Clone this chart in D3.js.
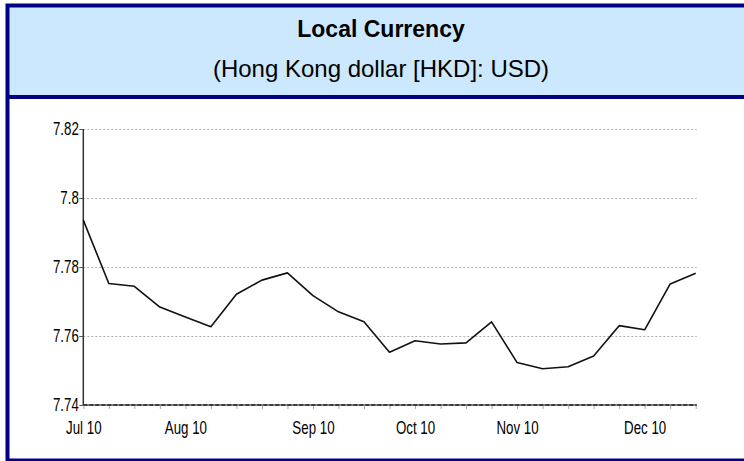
<!DOCTYPE html>
<html><head><meta charset="utf-8">
<script src="https://cdn.jsdelivr.net/npm/d3@7"></script>
<style>
html,body{margin:0;padding:0;background:#fff;overflow:hidden}
svg{display:block}
</style></head>
<body>
<svg id="c" width="744" height="461"></svg>
<script>
const title = "Local Currency";
const subtitle = "(Hong Kong dollar [HKD]: USD)";
// weekly observations, Jul 2010 – Dec 2010
const weeks = ["w01","w02","w03","w04","w05","w06","w07","w08","w09","w10","w11","w12","w13",
               "w14","w15","w16","w17","w18","w19","w20","w21","w22","w23","w24","w25"];
const weekLabels = ["Jul 10","","","","Aug 10","","","","","Sep 10","","","",
                    "Oct 10","","","","Nov 10","","","","","Dec 10","",""];
const rates = [7.7936,7.7752,7.7744,7.7684,7.7655,7.7627,7.7721,7.7762,7.7783,7.7717,7.7670,7.7641,7.7553,
               7.7586,7.7577,7.7580,7.7641,7.7523,7.7505,7.7511,7.7542,7.7630,7.7618,7.7751,7.7782];
const yTicks = [7.74,7.76,7.78,7.8,7.82];
const yTickLabels = ["7.74","7.76","7.78","7.8","7.82"];

const svg = d3.select("#c");
const navy = "#000080";

// header
svg.append("rect").attr("x",7).attr("y",5).attr("width",760).attr("height",92).attr("fill","#cce8ff");
svg.append("line").attr("x1",6).attr("x2",760).attr("y1",97).attr("y2",97).attr("stroke",navy).attr("stroke-width",4);
svg.append("rect").attr("x",7.5).attr("y",5.5).attr("width",760).attr("height",455)
   .attr("fill","none").attr("stroke",navy).attr("stroke-width",4);

svg.append("text").attr("x",381).attr("y",37).attr("text-anchor","middle")
   .attr("font-family","Liberation Sans, Arial, sans-serif").attr("font-size",23).attr("font-weight","bold")
   .attr("fill","#000").text(title);
svg.append("text").attr("x",381).attr("y",77).attr("text-anchor","middle")
   .attr("font-family","Liberation Sans, Arial, sans-serif").attr("font-size",24)
   .attr("fill","#000").text(subtitle);

const x = d3.scalePoint().domain(weeks).range([83.3,695.7]);
const y = d3.scaleLinear().domain([7.74,7.82]).range([405,129]);

const tickFont = "Liberation Sans, Arial, sans-serif";
const sx = 0.74;

// gridlines
svg.append("g").selectAll("line").data(yTicks.slice(1)).join("line")
   .attr("x1",x.range()[0]).attr("x2",x.range()[1]+1)
   .attr("y1",d=>Math.round(y(d))+0.5).attr("y2",d=>Math.round(y(d))+0.5)
   .attr("stroke","#b0b0b0").attr("stroke-width",1).attr("stroke-dasharray","2,2");

// x axis
const xAxis = d3.axisBottom(x).tickSize(4).tickFormat((d,i)=>weekLabels[i]);
const gx = svg.append("g").attr("transform",`translate(0,${y(7.74)})`).call(xAxis);
gx.select(".domain").remove();
gx.selectAll(".tick line").attr("stroke","#aaa").attr("stroke-width",1);
gx.selectAll(".tick text").attr("font-family",tickFont).attr("font-size",18).attr("fill","#000")
  .attr("y",29).attr("dy",0).attr("transform",`scale(${sx},1)`);
svg.append("line").attr("x1",x.range()[0]).attr("x2",x.range()[1]+1)
   .attr("y1",y(7.74)).attr("y2",y(7.74)).attr("stroke","#888").attr("stroke-width",2);
svg.append("line").attr("x1",x.range()[0]).attr("x2",x.range()[1]+1)
   .attr("y1",y(7.74)).attr("y2",y(7.74)).attr("stroke","#222").attr("stroke-width",1.5).attr("stroke-dasharray","4,2");

// y axis
const yAxis = d3.axisLeft(y).tickValues(yTicks).tickSize(4).tickFormat((d,i)=>yTickLabels[i]);
const gy = svg.append("g").attr("transform",`translate(${x.range()[0]},0)`).call(yAxis);
gy.select(".domain").attr("stroke","#333").attr("stroke-width",1.5).attr("d",`M0,${y(7.82)}V${y(7.74)}`);
gy.selectAll(".tick line").attr("stroke","#555");
gy.selectAll(".tick text").attr("font-family",tickFont).attr("font-size",18).attr("fill","#000")
  .attr("x",-4.5/sx).attr("transform",`scale(${sx},1)`);

// line
const line = d3.line().x((d,i)=>x(weeks[i])).y(d=>y(d));
svg.append("path").datum(rates).attr("d",line).attr("fill","none")
   .attr("stroke","#111").attr("stroke-width",1.6).attr("stroke-linejoin","round");
</script>
</body></html>
